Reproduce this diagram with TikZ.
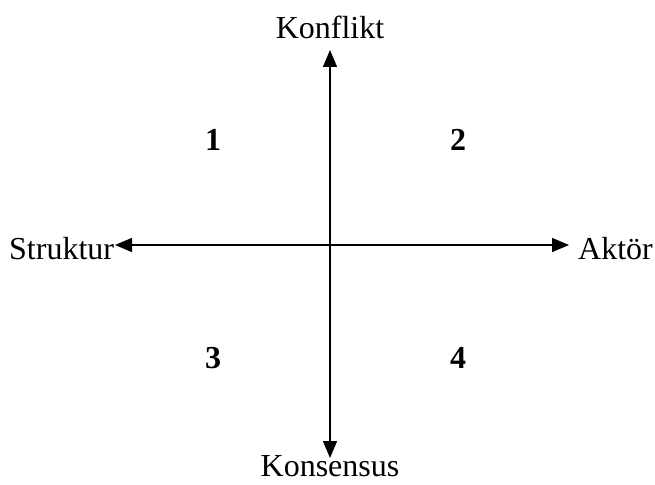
\documentclass[tikz,border=0pt]{standalone}
\usepackage{fontspec}
\setmainfont{Liberation Serif}
\usetikzlibrary{arrows.meta}

\begin{document}
\begin{tikzpicture}[x=1pt, y=-1pt,
  axis/.style={line width=1.5pt, -{Triangle[length=17pt, width=14pt]}},
  lbl/.style={font=\fontsize{32}{38}\selectfont, inner sep=0pt},
  quad/.style={font=\fontsize{32}{38}\selectfont\bfseries, inner sep=0pt, anchor=base}]

\useasboundingbox (0,0) rectangle (655,484);

%% origin and arrow tips
\coordinate (o) at (330,245);
\coordinate (tipN) at (330,50);
\coordinate (tipS) at (330,458);
\coordinate (tipW) at (115,245);
\coordinate (tipE) at (569,245);

%% axis labels
\node[lbl, anchor=base] (konflikt) at (330,39) {Konflikt};
\node[lbl, anchor=base] (konsensus) at (330,476) {Konsensus};
\node[lbl, anchor=base west] (struktur) at (9,259) {Struktur};
\node[lbl, anchor=base west] (aktor) at (578,259) {Aktör};

%% axes
\draw[axis] (o) -- (tipN);
\draw[axis] (o) -- (tipS);
\draw[axis] (o) -- (tipW);
\draw[axis] (o) -- (tipE);

%% quadrant numbers
\node[quad] (q1) at (213,150) {1};
\node[quad] (q2) at (458,150) {2};
\node[quad] (q3) at (213,368) {3};
\node[quad] (q4) at (458,368) {4};

\end{tikzpicture}
\end{document}
